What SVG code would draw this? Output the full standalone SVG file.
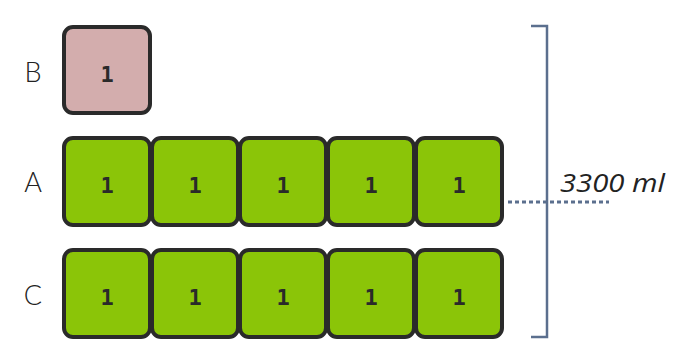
<svg xmlns="http://www.w3.org/2000/svg" width="692" height="364" viewBox="0 0 692 364">
<style>
.box{stroke:#2a2a2a;stroke-width:4}
.g{fill:#8bc508}
.p{fill:#d3adad}
.num{font-family:"DejaVu Sans Mono","Liberation Mono",monospace;font-weight:bold;font-size:22px;fill:#2a2a2a;text-anchor:middle}
.lbl{font-family:Lato,"Open Sans",sans-serif;font-weight:300;font-size:27px;fill:#222;text-anchor:middle}
.meas{font-family:"Open Sans",sans-serif;font-style:italic;font-size:25px;fill:#222}
</style>
<rect width="692" height="364" fill="#fff"/>
<g id="label-B"><text class="lbl" x="33" y="82">B</text></g>
<g id="label-A"><text class="lbl" x="33" y="192">A</text></g>
<g id="label-C"><text class="lbl" x="33" y="305">C</text></g>
<g id="B1"><rect class="box p" x="64" y="27" width="86" height="86" rx="9"/><text class="num" x="107" y="82">1</text></g>
<g id="A1"><rect class="box g" x="64" y="138" width="86" height="87" rx="9"/><text class="num" x="107" y="193">1</text></g>
<g id="A2"><rect class="box g" x="152" y="138" width="86" height="87" rx="9"/><text class="num" x="195" y="193">1</text></g>
<g id="A3"><rect class="box g" x="240" y="138" width="86" height="87" rx="9"/><text class="num" x="283" y="193">1</text></g>
<g id="A4"><rect class="box g" x="328" y="138" width="86" height="87" rx="9"/><text class="num" x="371" y="193">1</text></g>
<g id="A5"><rect class="box g" x="416" y="138" width="86" height="87" rx="9"/><text class="num" x="459" y="193">1</text></g>
<g id="C1"><rect class="box g" x="64" y="250" width="86" height="87" rx="9"/><text class="num" x="107" y="305">1</text></g>
<g id="C2"><rect class="box g" x="152" y="250" width="86" height="87" rx="9"/><text class="num" x="195" y="305">1</text></g>
<g id="C3"><rect class="box g" x="240" y="250" width="86" height="87" rx="9"/><text class="num" x="283" y="305">1</text></g>
<g id="C4"><rect class="box g" x="328" y="250" width="86" height="87" rx="9"/><text class="num" x="371" y="305">1</text></g>
<g id="C5"><rect class="box g" x="416" y="250" width="86" height="87" rx="9"/><text class="num" x="459" y="305">1</text></g>
<g id="connectors">
<path d="M531 26 H547 V337 H531" fill="none" stroke="#5b6f8e" stroke-width="2.5"/>
<line x1="508" y1="202" x2="609" y2="202" stroke="#5b6f8e" stroke-width="3" stroke-dasharray="4 3"/>
</g>
<g id="measure"><text class="meas" x="560" y="192" textLength="105" lengthAdjust="spacingAndGlyphs">3300 ml</text></g>
</svg>
